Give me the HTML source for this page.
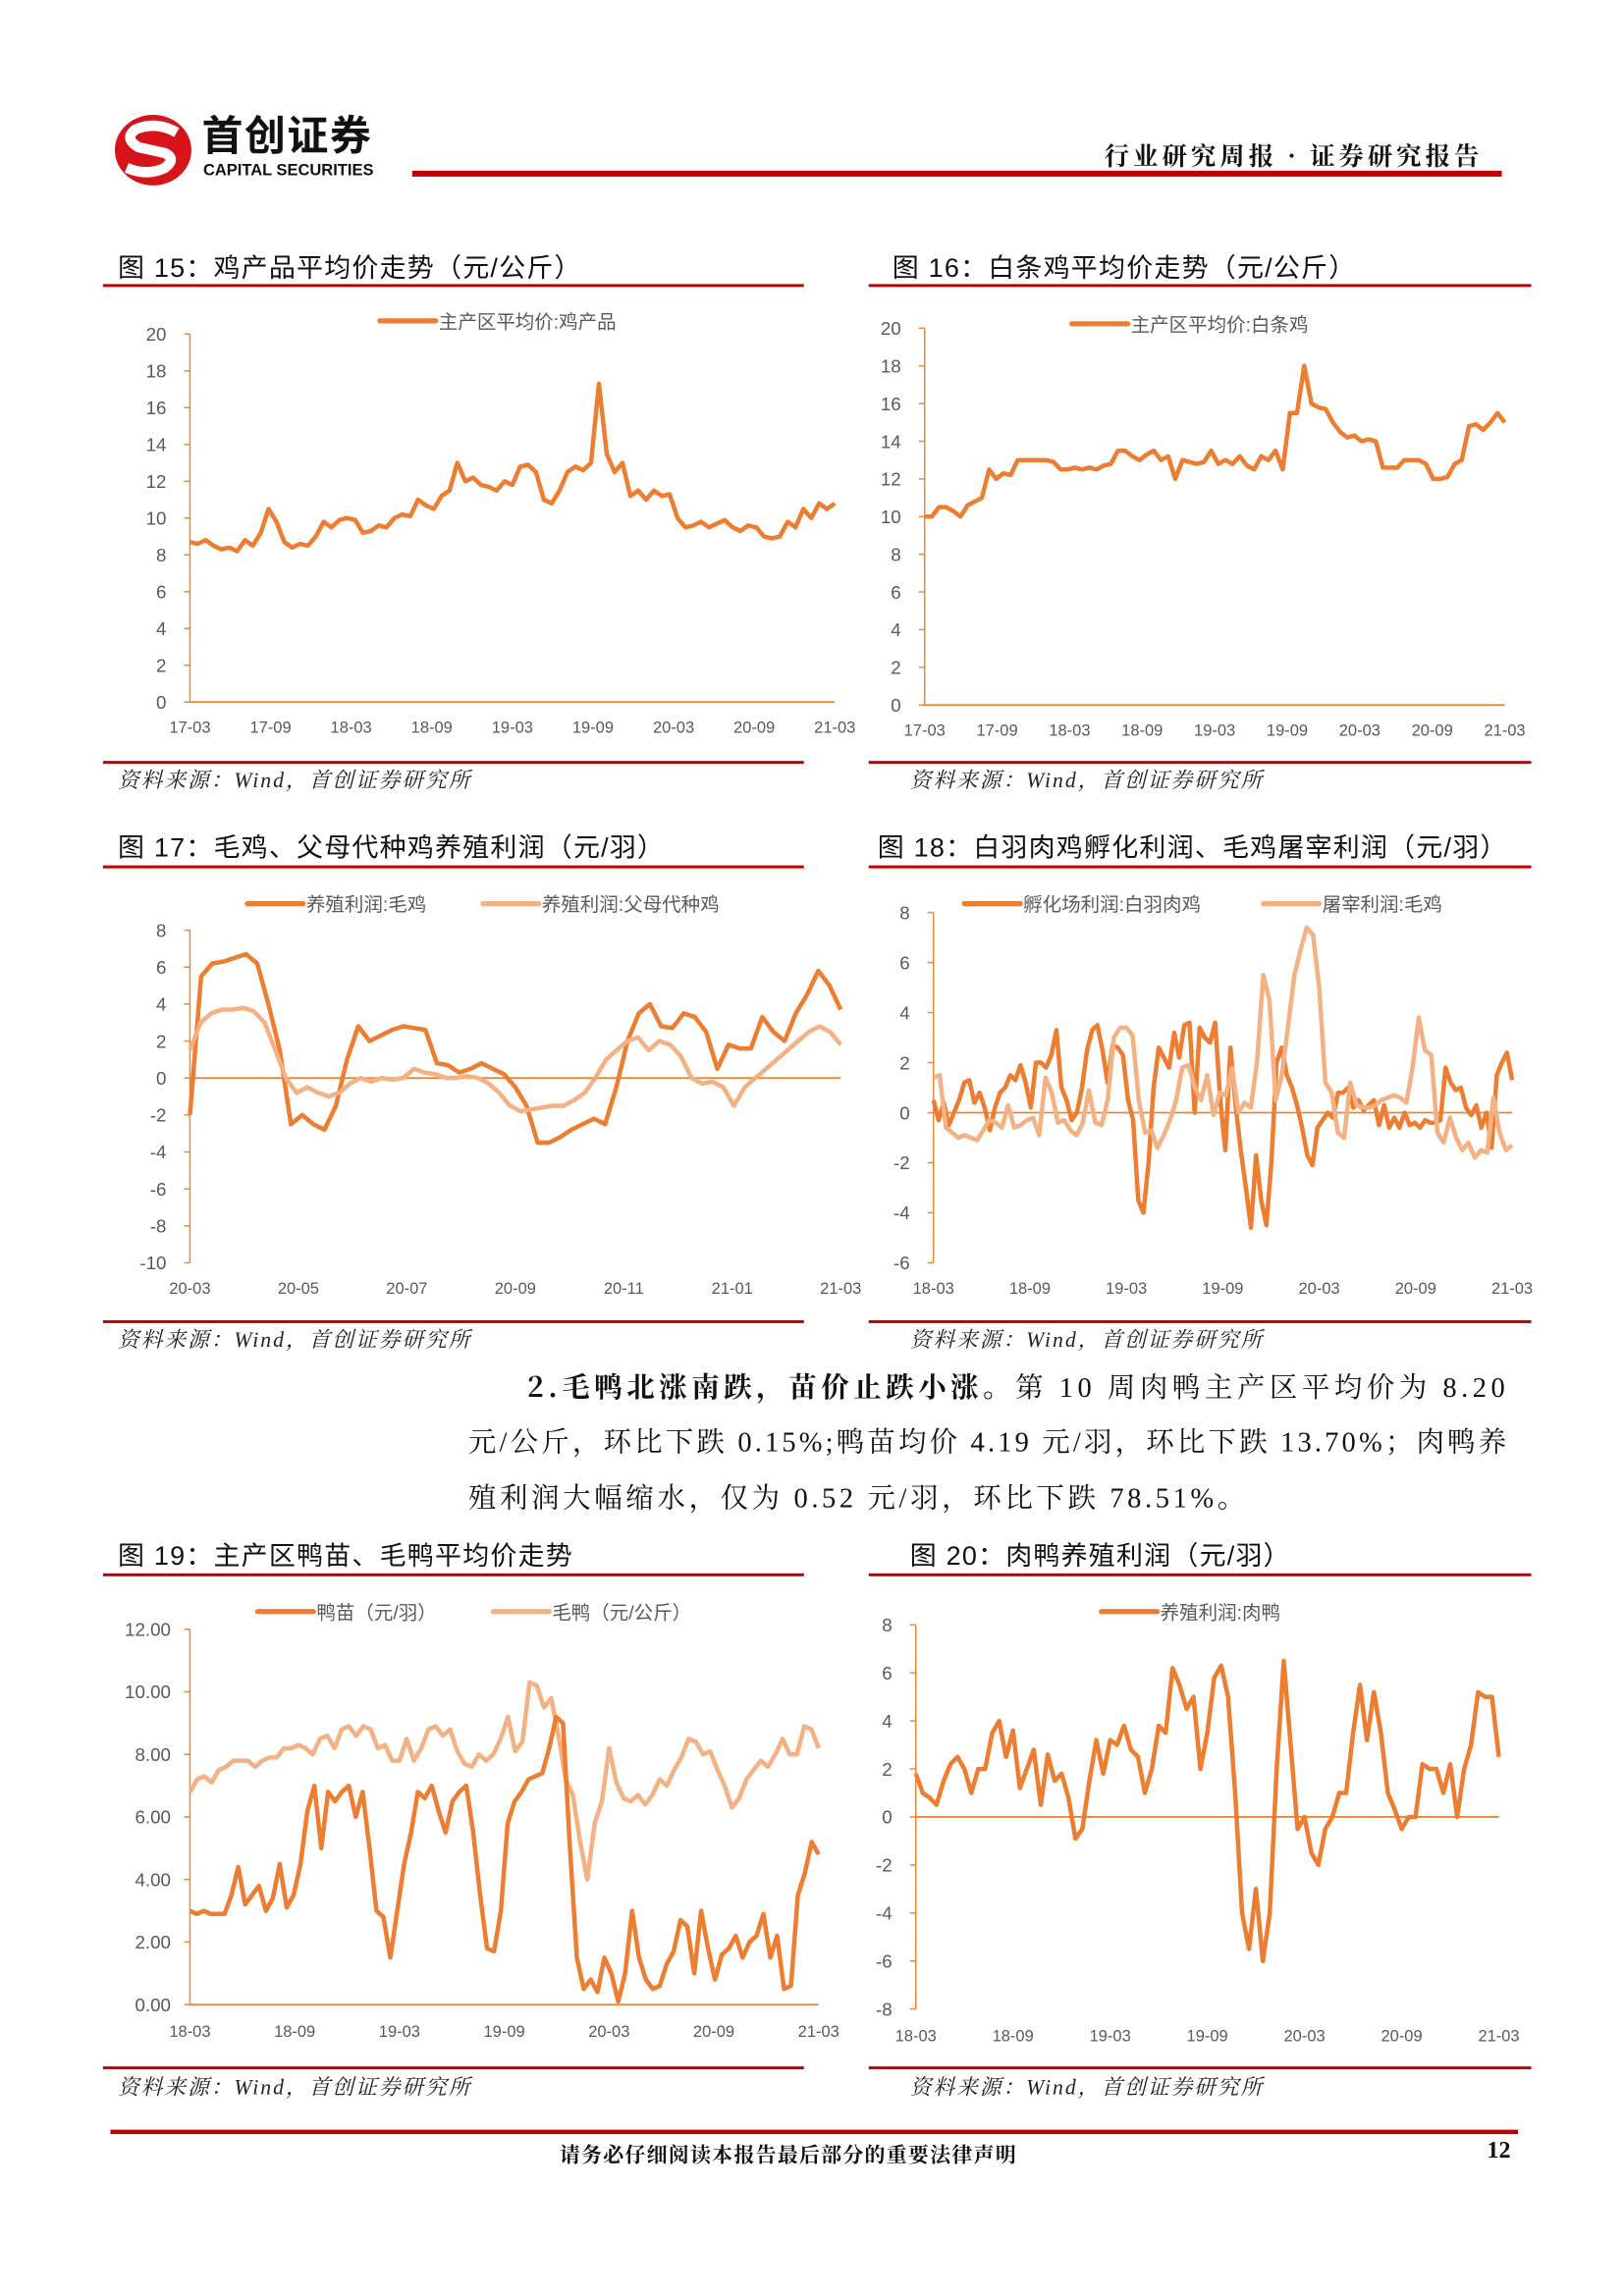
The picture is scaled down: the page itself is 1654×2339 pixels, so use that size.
<!DOCTYPE html>
<html><head><meta charset="utf-8">
<style>
html,body{margin:0;padding:0;background:#fff;}
body{width:1654px;height:2339px;overflow:hidden;position:relative;}
#page{position:absolute;left:0;top:0;width:1103px;height:1560px;transform:scale(1.49955,1.49936);transform-origin:0 0;font-family:"Liberation Sans","Noto Sans CJK SC",sans-serif;}
.abs{position:absolute;}
.ttl{position:absolute;font-size:18px;letter-spacing:0.8px;color:#111;white-space:nowrap;top:0;}
.rl{position:absolute;height:2px;background:#c00000;}
.src{position:absolute;font-size:14.5px;letter-spacing:1.3px;font-style:italic;color:#222;font-family:"Liberation Serif","Noto Serif CJK SC",serif;white-space:nowrap;}
.para{position:absolute;left:318px;font-size:19px;color:#111;font-family:"Liberation Serif","Noto Serif CJK SC",serif;white-space:nowrap;}
svg text{font-family:"Liberation Sans","Noto Sans CJK SC",sans-serif;}
</style></head><body>
<div id="page">
  <svg class="abs" style="left:76px;top:76px" width="56" height="52">
    <ellipse cx="28" cy="26" rx="26" ry="24" fill="#d7141a"/>
    <path d="M44 14 Q30 6 16 12 Q8 18 18 24 L36 28 Q44 32 36 38 Q24 44 10 38" stroke="#fff" stroke-width="7" fill="none"/>
  </svg>
  <div class="abs" style="left:137px;top:74px;font-size:28px;line-height:34px;font-weight:bold;color:#111;letter-spacing:1px;font-family:'Noto Sans CJK SC',sans-serif">首创证券</div>
  <div class="abs" style="left:138px;top:110px;font-size:11px;line-height:13px;font-weight:bold;color:#111">CAPITAL SECURITIES</div>
  <div class="abs" style="left:750px;top:92px;font-size:17px;letter-spacing:2.6px;font-weight:bold;color:#111;font-family:'Noto Serif CJK SC',serif">行业研究周报 · 证券研究报告</div>
  <div class="abs" style="left:280px;top:116px;width:740px;height:4px;background:#c00000"></div>

  <div class="ttl" style="left:80px;top:168px">图 15：鸡产品平均价走势（元/公斤）</div>
  <div class="rl" style="left:70px;top:193px;width:476px"></div>
  <div class="ttl" style="left:606px;top:168px">图 16：白条鸡平均价走势（元/公斤）</div>
  <div class="rl" style="left:590px;top:193px;width:450px"></div>
  <div class="rl" style="left:70px;top:517px;width:476px"></div>
  <div class="rl" style="left:590px;top:517px;width:450px"></div>
  <div class="src" style="left:80px;top:519px">资料来源：Wind，首创证券研究所</div>
  <div class="src" style="left:618px;top:519px">资料来源：Wind，首创证券研究所</div>

  <div class="ttl" style="left:80px;top:562px">图 17：毛鸡、父母代种鸡养殖利润（元/羽）</div>
  <div class="rl" style="left:70px;top:588px;width:476px"></div>
  <div class="ttl" style="left:596px;top:562px">图 18：白羽肉鸡孵化利润、毛鸡屠宰利润（元/羽）</div>
  <div class="rl" style="left:590px;top:588px;width:450px"></div>
  <div class="rl" style="left:70px;top:897px;width:476px"></div>
  <div class="rl" style="left:590px;top:897px;width:450px"></div>
  <div class="src" style="left:80px;top:899px">资料来源：Wind，首创证券研究所</div>
  <div class="src" style="left:618px;top:899px">资料来源：Wind，首创证券研究所</div>

  <div class="para" style="top:928px;left:358px;letter-spacing:3.0px"><b style="font-family:'Noto Serif CJK SC',serif">2.毛鸭北涨南跌，苗价止跌小涨。</b>第 10 周肉鸭主产区平均价为 8.20</div>
  <div class="para" style="top:965px;letter-spacing:2.1px">元/公斤，环比下跌 0.15%;鸭苗均价 4.19 元/羽，环比下跌 13.70%；肉鸭养</div>
  <div class="para" style="top:1003px;letter-spacing:2.4px">殖利润大幅缩水，仅为 0.52 元/羽，环比下跌 78.51%。</div>

  <div class="ttl" style="left:80px;top:1043px">图 19：主产区鸭苗、毛鸭平均价走势</div>
  <div class="rl" style="left:70px;top:1069px;width:476px"></div>
  <div class="ttl" style="left:618px;top:1043px">图 20：肉鸭养殖利润（元/羽）</div>
  <div class="rl" style="left:590px;top:1069px;width:450px"></div>
  <div class="rl" style="left:70px;top:1404px;width:476px"></div>
  <div class="rl" style="left:590px;top:1404px;width:450px"></div>
  <div class="src" style="left:80px;top:1407px">资料来源：Wind，首创证券研究所</div>
  <div class="src" style="left:618px;top:1407px">资料来源：Wind，首创证券研究所</div>

  <div class="abs" style="left:75px;top:1447px;width:956px;height:3px;background:#c00000"></div>
  <div class="abs" style="left:380px;top:1454px;font-size:14px;letter-spacing:0.8px;font-weight:bold;color:#111;font-family:'Noto Serif CJK SC',serif">请务必仔细阅读本报告最后部分的重要法律声明</div>
  <div class="abs" style="left:1010px;top:1453px;font-size:16px;font-weight:bold;color:#111;font-family:'Liberation Serif',serif">12</div>

  <svg id="charts" class="abs" style="left:0;top:0" width="1103" height="1560"></svg>
</div>
<script>
const c15Ticks=["17-03","17-09","18-03","18-09","19-03","19-09","20-03","20-09","21-03"];
const c15Vals=[8.7,8.6,8.8,8.5,8.3,8.4,8.2,8.8,8.5,9.2,10.5,9.8,8.7,8.4,8.6,8.5,9.0,9.8,9.5,9.9,10.0,9.9,9.2,9.3,9.6,9.5,10.0,10.2,10.1,11.0,10.7,10.5,11.2,11.5,13.0,12.0,12.2,11.8,11.7,11.5,12.0,11.8,12.8,12.9,12.5,11.0,10.8,11.5,12.5,12.8,12.6,13.0,17.3,13.5,12.5,13.0,11.2,11.5,11.0,11.5,11.2,11.3,10.0,9.5,9.6,9.8,9.5,9.7,9.9,9.5,9.3,9.6,9.5,9.0,8.9,9.0,9.8,9.5,10.5,10.0,10.8,10.5,10.8];
const c16Vals=[10,10,10.5,10.5,10.3,10,10.6,10.8,11,12.5,12,12.3,12.2,13,13,13,13,13,12.9,12.5,12.5,12.6,12.5,12.6,12.5,12.7,12.8,13.5,13.5,13.2,13,13.3,13.5,13,13.2,12,13,12.9,12.8,12.9,13.5,12.8,13,12.8,13.2,12.7,12.5,13.2,13,13.5,12.5,15.5,15.5,18,16,15.8,15.7,15,14.5,14.2,14.3,14,14.1,14,12.6,12.6,12.6,13,13,13,12.8,12,12,12.1,12.8,13,14.8,14.9,14.6,15,15.5,15];
const c17Ticks=["20-03","20-05","20-07","20-09","20-11","21-01","21-03"];
const c17A=[-2,5.5,6.2,6.3,6.5,6.7,6.2,4,1.5,-2.5,-2,-2.5,-2.8,-1.5,1,2.8,2,2.3,2.6,2.8,2.7,2.6,0.8,0.7,0.3,0.5,0.8,0.5,0.2,-0.5,-1.5,-3.5,-3.5,-3.2,-2.8,-2.5,-2.2,-2.5,-0.5,2,3.5,4,2.8,2.7,3.5,3.3,2.5,0.5,1.8,1.6,1.6,3.3,2.5,2,3.5,4.5,5.8,5,3.7];
const c17B=[1.5,3,3.5,3.7,3.7,3.8,3.6,3,1.5,0,-0.8,-0.5,-0.8,-1,-0.8,-0.3,0,-0.2,0,-0.1,0,0.5,0.3,0.2,0,0,0.1,0,-0.3,-0.8,-1.5,-1.8,-1.7,-1.6,-1.5,-1.5,-1.2,-0.8,0,1,1.5,2,2.2,1.5,2,1.8,1.2,0,-0.3,-0.2,-0.5,-1.5,-0.5,0,0.5,1,1.5,2,2.5,2.8,2.5,1.8];
const c18Ticks=["18-03","18-09","19-03","19-09","20-03","20-09","21-03"];
const c18A=[0.5,-0.3,0.4,-0.5,0,0.5,1.2,1.3,0.4,0.8,0.2,-0.7,0.2,0.8,1.0,1.5,1.3,1.9,1.2,0.2,2.0,2.0,1.8,2.3,3.3,1.0,0.5,-0.3,0,1,2.5,3.3,3.5,2.5,1.2,2.7,2.6,2.3,0.5,-0.3,-3.5,-4.0,-2,1,2.6,2.2,1.8,3.2,2.2,3.5,3.6,0,3.4,3.0,2.8,3.6,0.5,-1.5,2.6,0.3,-1.5,-3,-4.6,-1.7,-3.5,-4.5,-2,2,2.6,1.5,1.0,0.3,-0.6,-1.7,-2.1,-0.6,-0.3,0,-0.2,0.8,0.8,1,0.2,0.5,0.1,0.3,0.5,-0.5,0.3,-0.6,-0.2,-0.6,0,-0.5,-0.4,-0.6,-0.3,-0.4,-0.4,-0.3,1.8,1.2,0.9,1.0,0.2,-0.1,0.3,-0.6,0,-1.4,1.5,2.0,2.4,1.3];
const c18B=[1.4,1.5,-0.6,-0.8,-1,-0.9,-1.0,-1.1,-0.7,-0.3,-0.4,-0.6,0.3,-0.6,-0.5,-0.3,-0.2,-0.9,1.4,0.8,-0.4,-0.3,-0.7,-0.9,-0.4,0.9,-0.4,-0.5,0.5,3.0,3.4,3.4,3.1,0.5,-0.8,-0.7,-1.4,-0.9,-0.3,0.5,1.8,1.9,1.0,0.5,1.5,-0.1,0.8,0.7,1.8,0,0.4,0.2,2,5.5,4.5,0.5,1.5,3.5,5.5,6.5,7.4,7.1,5.0,1.2,0.8,-0.8,-1.0,1.2,0.3,0.2,0.2,0.3,0.5,0.6,0.7,0.6,0.4,1.8,3.8,2.5,2.3,-0.8,-1.2,-0.2,-1.0,-1.5,-1.2,-1.8,-1.5,-1.6,0.6,-0.8,-1.5,-1.3];
const c19Ticks=["18-03","18-09","19-03","19-09","20-03","20-09","21-03"];
const c19Duck=[3,2.9,3,2.9,2.9,2.9,3.5,4.4,3.2,3.5,3.8,3.0,3.4,4.5,3.1,3.5,4.5,6.2,7.0,5.0,6.8,6.5,6.8,7.0,6.0,6.8,5.0,3.0,2.8,1.5,3.0,4.5,5.5,6.8,6.6,7.0,6.2,5.5,6.5,6.8,7.0,5.5,3.5,1.8,1.7,3.0,5.8,6.5,6.8,7.2,7.3,7.4,8.2,9.2,9.0,5.0,1.5,0.5,0.8,0.4,1.5,1.0,0.1,1.0,3.0,1.5,0.8,0.5,0.6,1.3,1.7,2.7,2.5,1.0,3.0,1.8,0.8,1.6,1.8,2.2,1.5,2.0,2.2,2.9,1.5,2.2,0.5,0.6,3.5,4.2,5.2,4.8];
const c19Mao=[6.8,7.2,7.3,7.1,7.5,7.6,7.8,7.8,7.8,7.6,7.8,7.9,7.9,8.2,8.2,8.3,8.2,8.0,8.5,8.6,8.2,8.8,8.9,8.6,8.9,8.8,8.2,8.3,7.8,7.8,8.5,7.8,8.2,8.8,8.9,8.6,8.8,8.1,7.7,7.6,8.0,7.8,8.0,8.5,9.2,8.1,8.4,10.3,10.2,9.5,9.8,8.6,7.2,6.7,5.2,4.0,5.8,6.5,8.2,7.1,6.6,6.5,6.7,6.4,6.7,7.2,7.0,7.5,7.9,8.5,8.4,8.0,8.1,7.5,7.0,6.3,6.6,7.2,7.5,7.8,7.6,8.0,8.5,8.0,8.0,8.9,8.8,8.2];
const c20Ticks=["18-03","18-09","19-03","19-09","20-03","20-09","21-03"];
const c20Vals=[1.8,1.0,0.8,0.5,1.5,2.2,2.5,2.0,1.0,2.0,2.0,3.5,4.0,2.5,3.6,1.2,2.0,2.8,0.5,2.6,1.5,1.8,0.8,-0.9,-0.5,1.5,3.2,1.8,3.2,3.0,3.8,2.8,2.5,1.0,2.0,3.8,3.5,6.2,5.5,4.5,5.0,2.0,3.5,5.8,6.3,5.0,1.0,-4.0,-5.5,-3.0,-6.0,-4.0,2.0,6.5,3.0,-0.5,0,-1.5,-2.0,-0.5,0,1.0,1.0,3.5,5.5,3.2,5.2,3.5,1.0,0.3,-0.5,0,0,2.2,2.0,2.0,1.0,2.2,0,2.0,3.0,5.2,5.0,5.0,2.5];

const NS='http://www.w3.org/2000/svg';
const root=document.getElementById('charts');
const AX='#E8883A', TX='#595959', C1='#ED7D31', C2='#F4B183';
function el(tag,attrs,parent){const e=document.createElementNS(NS,tag);for(const k in attrs)e.setAttribute(k,attrs[k]);(parent||root).appendChild(e);return e;}
function chart(id,cfg){
  const g=el('g',{});
  
  
  const yS=v=>cfg.y0+(v-cfg.min)/(cfg.max-cfg.min)*(cfg.y1-cfg.y0);
  const ya=el('line',{x1:cfg.x0,x2:cfg.x0,y1:yS(cfg.min),y2:yS(cfg.max),stroke:AX,'stroke-width':1},g);
  
  
  for(let v=cfg.min;v<=cfg.max+1e-9;v+=cfg.step){
    el('line',{x1:cfg.x0-4,x2:cfg.x0,y1:yS(v),y2:yS(v),stroke:AX,'stroke-width':1},g);
    const t=el('text',{x:cfg.x0-cfg.lpad,y:yS(v)+4.5,'font-size':12.5,fill:TX,'text-anchor':'end'},g);
    t.textContent=cfg.dec?v.toFixed(2):String(v);
    
    
  }
  const base=yS(cfg.base);
  const xa=el('line',{x1:cfg.x0,x2:cfg.x1,y1:base,y2:base,stroke:AX,'stroke-width':1.2},g);
  
  
  const n=cfg.ticks.length;
  cfg.ticks.forEach((lab,i)=>{
    const x=cfg.x0+i*(cfg.x1-cfg.x0)/(n-1);
    const t=el('text',{x:x,y:cfg.xly,'font-size':11,fill:TX,'text-anchor':'middle'},g);
    t.textContent=lab;
    
    
  });
  cfg.series.forEach((s,si)=>{
    const d=s.vals.map((v,i)=>(i?'L':'M')+(cfg.x0+i*(cfg.x1-cfg.x0)/(s.vals.length-1)).toFixed(1)+' '+yS(v).toFixed(1)).join(' ');
    const p=el('path',{d:d,fill:'none',stroke:s.color,'stroke-width':3,'stroke-linejoin':'round'},g);
    
    
    const lx=s.lx, ly=cfg.legy;
    const ll=el('line',{x1:lx,x2:lx+38,y1:ly,y2:ly,stroke:s.color,'stroke-width':3.5,'stroke-linecap':'round'},g);
    
    
    const lt=el('text',{x:lx+40,y:ly+5,'font-size':13,fill:TX},g);
    lt.textContent=s.name;
    
    
  });
}
chart('fig15-chart',{x0:129,x1:567,y0:477,y1:227,min:0,max:20,step:2,base:0,ticks:c15Ticks,xly:498,lpad:16,legy:218,
  series:[{vals:c15Vals,color:C1,name:'主产区平均价:鸡产品',lx:258}]});
chart('fig16-chart',{x0:628,x1:1022,y0:479,y1:223,min:0,max:20,step:2,base:0,ticks:c15Ticks,xly:500,lpad:16,legy:220,
  series:[{vals:c16Vals,color:C1,name:'主产区平均价:白条鸡',lx:728}]});
chart('fig17-chart',{x0:129,x1:571,y0:858,y1:632,min:-10,max:8,step:2,base:0,ticks:c17Ticks,xly:879,lpad:16,legy:614,
  series:[{vals:c17A,color:C1,name:'养殖利润:毛鸡',lx:168},{vals:c17B,color:C2,name:'养殖利润:父母代种鸡',lx:328}]});
chart('fig18-chart',{x0:634,x1:1027,y0:858,y1:620,min:-6,max:8,step:2,base:0,ticks:c18Ticks,xly:879,lpad:16,legy:614,
  series:[{vals:c18A,color:C1,name:'孵化场利润:白羽肉鸡',lx:655},{vals:c18B,color:C2,name:'屠宰利润:毛鸡',lx:858}]});
chart('fig19-chart',{x0:129,x1:556,y0:1362,y1:1107,min:0,max:12,step:2,base:0,ticks:c19Ticks,xly:1384,lpad:13,legy:1095,dec:true,
  series:[{vals:c19Mao,color:C2,name:'毛鸭（元/公斤）',lx:335},{vals:c19Duck,color:C1,name:'鸭苗（元/羽）',lx:175}]});
chart('fig20-chart',{x0:622,x1:1018,y0:1365,y1:1104,min:-8,max:8,step:2,base:0,ticks:c20Ticks,xly:1387,lpad:16,legy:1095,
  series:[{vals:c20Vals,color:C1,name:'养殖利润:肉鸭',lx:748}]});
</script>
</body></html>
